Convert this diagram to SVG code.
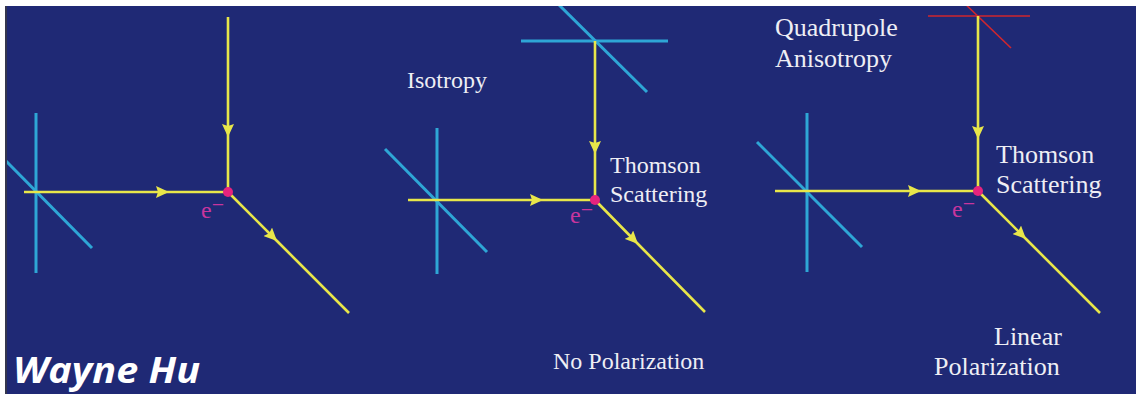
<svg xmlns="http://www.w3.org/2000/svg" width="1136" height="394" viewBox="0 0 1136 394">
<defs>
<style>
.bg{fill:#1f2975}
.ray{fill:none;stroke:#e8e64a;stroke-width:2.6;marker-mid:url(#arr)}
.pol{stroke:#2ea6d6;stroke-width:3;stroke-linecap:butt}
.polr{stroke:#d0262e;stroke-width:1.6}
.dot{fill:#e6247e}
.lbl{font-family:"Liberation Serif","Times New Roman",serif;fill:#eeeef4}
.el{font-family:"Liberation Serif","Times New Roman",serif;fill:#c8359e;font-size:24px}
.sig{font-family:"Open Sans","DejaVu Sans",sans-serif;font-weight:700;font-style:italic;fill:#ffffff;font-size:35px}
</style>
<marker id="arr" markerWidth="14" markerHeight="12" refX="13" refY="6" orient="auto" markerUnits="userSpaceOnUse">
<path d="M0,0 L13,6 L0,12 L2,6 z" fill="#e8e64a"/>
</marker>
</defs>
<rect x="0" y="0" width="1136" height="394" fill="#ffffff"/>
<rect class="bg" x="6" y="6" width="1130" height="388"/>

<g id="panel1">
<g id="p1-pol">
<line class="pol" x1="36" y1="113" x2="36" y2="273"/>
<line class="pol" x1="6" y1="161" x2="92" y2="248"/>
</g>
</g>

<g id="panel2">
<g id="p2-pol-left">
<line class="pol" x1="437" y1="128" x2="437" y2="274"/>
<line class="pol" x1="385" y1="149" x2="487" y2="252"/>
</g>
<g id="p2-pol-top">
<line class="pol" x1="521" y1="41" x2="668" y2="41"/>
<line class="pol" x1="554" y1="0" x2="647" y2="92"/>
</g>
<text class="lbl" x="407" y="88" font-size="24">Isotropy</text>
<text class="lbl" x="610" y="173" font-size="24">Thomson</text>
<text class="lbl" x="610" y="202" font-size="24">Scattering</text>
<text class="lbl" x="553" y="369" font-size="24">No Polarization</text>
</g>

<g id="panel3">
<g id="p3-pol-left">
<line class="pol" x1="807" y1="113" x2="807" y2="272"/>
<line class="pol" x1="757" y1="142" x2="862" y2="247"/>
</g>
<g id="p3-pol-top">
<line class="polr" x1="928" y1="16" x2="1030" y2="16"/>
<line class="polr" x1="961" y1="0" x2="1011" y2="48"/>
</g>
<text class="lbl" x="775" y="36" font-size="26">Quadrupole</text>
<text class="lbl" x="775" y="67" font-size="26">Anisotropy</text>
<text class="lbl" x="996" y="163" font-size="26">Thomson</text>
<text class="lbl" x="996" y="193" font-size="26">Scattering</text>
<text class="lbl" x="994" y="345" font-size="26">Linear</text>
<text class="lbl" x="934" y="375" font-size="26">Polarization</text>
</g>

<g id="connectors">
<path class="ray" d="M228,17 L228,137 L228,192"/>
<path class="ray" d="M24,192 L169,192 L228,192"/>
<path class="ray" d="M228,192 L277,241 L349,313"/>
<path class="ray" d="M595,41 L595,154 L595,200"/>
<path class="ray" d="M408,200 L543,200 L595,200"/>
<path class="ray" d="M595,200 L638,244 L705,312"/>
<path class="ray" d="M978,16 L978,139 L978,191"/>
<path class="ray" d="M775,191 L921,191 L978,191"/>
<path class="ray" d="M978,191 L1026,239 L1100,313"/>
</g>

<g id="electron1">
<circle class="dot" cx="228" cy="192" r="5"/>
<text class="el" x="201" y="218">e<tspan dy="-6" font-size="22">−</tspan></text>
</g>
<g id="electron2">
<circle class="dot" cx="595" cy="200" r="5"/>
<text class="el" x="570" y="223">e<tspan dy="-6" font-size="22">−</tspan></text>
</g>
<g id="electron3">
<circle class="dot" cx="978" cy="191" r="5"/>
<text class="el" x="952" y="217">e<tspan dy="-6" font-size="22">−</tspan></text>
</g>

<text class="sig" x="13" y="383" textLength="187" lengthAdjust="spacingAndGlyphs">Wayne Hu</text>

<rect x="0" y="0" width="1136" height="6" fill="#ffffff"/>
<rect x="0" y="0" width="5" height="394" fill="#ffffff"/>
<rect x="5" y="6" width="2" height="388" fill="#34364e"/>
</svg>
